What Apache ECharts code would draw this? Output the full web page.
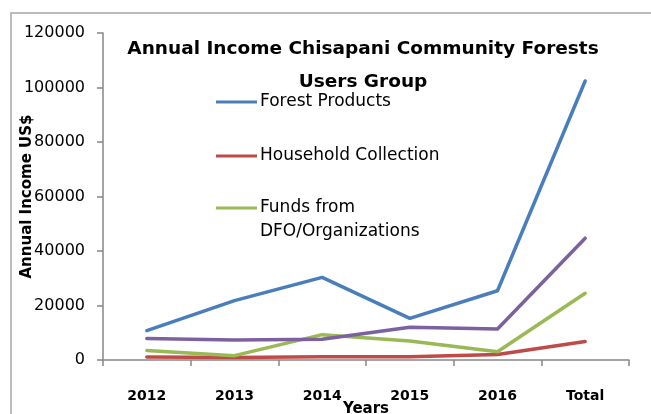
<!DOCTYPE html>
<html><head><meta charset="utf-8">
<script src="https://cdn.jsdelivr.net/npm/echarts@6/dist/echarts.min.js"></script>
<style>html,body{margin:0;padding:0;background:#fff}#c{width:651px;height:414px}</style>
</head><body><div id="c"></div>
<script>
var categories = ['2012', '2013', '2014', '2015', '2016', 'Total'];
var forestProducts = [10800, 21800, 30300, 15300, 25400, 102400];
var householdCollection = [1100, 900, 1200, 1200, 2000, 6800];
var fundsDFO = [3500, 1600, 9300, 7000, 3000, 24500];
var otherSeries = [7900, 7300, 7600, 12000, 11400, 44700];
var yTicks = [0, 20000, 40000, 60000, 80000, 100000, 120000];

var chart = echarts.init(document.getElementById('c'), null, {renderer: 'canvas'});
var txt = '#000';
function line(name, data, color) {
  return {
    name: name, type: 'line', data: data, symbol: 'none', smooth: false,
    lineStyle: {color: color, width: 3.5, cap: 'round', join: 'round'},
    itemStyle: {color: color}
  };
}
function leg(name, top, label) {
  return {
    data: [name], left: 216, top: top, itemWidth: 41, itemHeight: 3, itemGap: 3,
    padding: 0, icon: 'rect', selectedMode: false,
    formatter: function () { return label; },
    textStyle: {fontFamily: 'DejaVu Sans', fontSize: 17, lineHeight: 20, color: txt, padding: [0, 0, 0, -2]}
  };
}
chart.setOption({
  animation: false,
  backgroundColor: '#fff',
  title: {
    text: 'Annual Income Chisapani Community Forests\nUsers Group',
    left: 363, top: 33, textAlign: 'center', padding: 0,
    textStyle: {fontFamily: 'DejaVu Sans', fontWeight: 'bold', fontSize: 18.5, lineHeight: 33, color: txt}
  },
  legend: [
    leg('Forest Products', 92, 'Forest Products'),
    leg('Household Collection', 146, 'Household Collection'),
    leg('Funds from DFO/Organizations', 198, 'Funds from')
  ],
  grid: {left: 103, right: 22, top: 33, bottom: 54, containLabel: false, outerBoundsMode: 'none'},
  xAxis: {
    type: 'category', data: categories, boundaryGap: true,
    name: 'Years', nameLocation: 'middle', nameGap: 42, nameMoveOverlap: false,
    nameTextStyle: {fontFamily: 'DejaVu Sans', fontWeight: 'bold', fontSize: 15, color: txt},
    axisLine: {lineStyle: {color: '#868686', width: 1.5}},
    axisTick: {show: true, length: 6, lineStyle: {color: '#868686', width: 1.5}},
    axisLabel: {fontFamily: 'DejaVu Sans', fontWeight: 'bold', fontSize: 14, color: txt, margin: 29}
  },
  yAxis: {
    type: 'value', min: 0, max: 120000, interval: 20000,
    name: 'Annual Income US$', nameLocation: 'middle', nameGap: 68, nameRotate: 90, nameMoveOverlap: false,
    nameTextStyle: {fontFamily: 'DejaVu Sans', fontWeight: 'bold', fontSize: 15, color: txt},
    axisLine: {show: true, lineStyle: {color: '#868686', width: 1.5}},
    axisTick: {show: true, length: 6, lineStyle: {color: '#868686', width: 1.5}},
    splitLine: {show: false},
    axisLabel: {fontFamily: 'DejaVu Sans', fontSize: 16, color: txt, margin: 18,
      formatter: function (v) { return yTicks.indexOf(v) >= 0 ? String(v) : ''; }}
  },
  graphic: [{
    type: 'polyline', z: -10,
    shape: {points: [[11, 420], [11, 13], [660, 13]]},
    style: {fill: 'none', stroke: '#a6a6a6', lineWidth: 1.5}
  }, {
    type: 'text', left: 260, top: 223, z: 10,
    style: {text: 'DFO/Organizations', fontFamily: 'DejaVu Sans', fontSize: 17, fill: txt}
  }],
  series: [
    line('Forest Products', forestProducts, '#4a7ebb'),
    line('Household Collection', householdCollection, '#be4b48'),
    line('Funds from DFO/Organizations', fundsDFO, '#98b954'),
    line('Series 4', otherSeries, '#7d60a0')
  ]
});
</script></body></html>
